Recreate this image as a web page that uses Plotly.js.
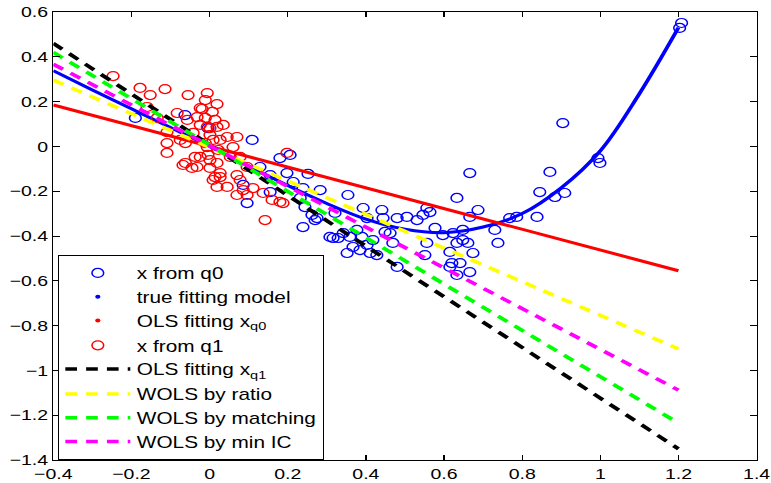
<!DOCTYPE html>
<html>
<head>
<meta charset="utf-8">
<script src="https://cdn.plot.ly/plotly-3.0.1.min.js"></script>
<style>
html,body{margin:0;padding:0;background:#fff;overflow:hidden;}
#plot{width:593px;height:483px;transform:scaleX(1.3);transform-origin:0 0;}
</style>
</head>
<body>
<div id="plot"></div>
<script>
// ---- data ----
const q0X = [-0.190,-0.063,-0.004,0.109,0.086,0.096,0.180,0.206,0.155,0.198,0.232,0.244,0.239,0.129,0.155,0.252,0.214,0.239,0.283,0.354,0.262,0.275,0.321,0.393,0.441,0.444,0.403,0.308,0.342,0.377,0.390,0.352,0.411,0.428,0.469,0.505,0.480,0.531,0.546,0.564,0.556,0.633,0.666,0.687,0.666,0.577,0.556,0.551,0.480,0.633,0.648,0.661,0.615,0.674,0.641,0.615,0.633,0.666,0.738,0.730,0.768,0.786,0.838,0.845,0.871,0.270,0.316,0.329,0.385,0.597,0.623,0.620,0.418,0.449,0.462,0.648,0.359,0.367,0.403,0.884,0.909,0.994,0.999,0.904,1.203,1.208];
const q0Y = [0.127,0.140,0.082,0.029,-0.172,-0.253,-0.052,-0.038,-0.204,-0.119,-0.230,-0.271,-0.360,-0.092,-0.128,-0.123,-0.159,-0.186,-0.195,-0.217,-0.306,-0.320,-0.297,-0.275,-0.284,-0.320,-0.320,-0.404,-0.387,-0.373,-0.404,-0.476,-0.476,-0.485,-0.431,-0.315,-0.320,-0.329,-0.306,-0.293,-0.275,-0.230,-0.119,-0.284,-0.315,-0.364,-0.431,-0.485,-0.538,-0.431,-0.418,-0.431,-0.471,-0.476,-0.521,-0.538,-0.574,-0.561,-0.431,-0.373,-0.320,-0.315,-0.315,-0.204,-0.114,-0.329,-0.409,-0.409,-0.463,-0.396,-0.387,-0.521,-0.418,-0.382,-0.387,-0.373,-0.404,-0.449,-0.440,-0.226,-0.208,-0.052,-0.074,0.104,0.529,0.551];

const q1X = [-0.247,-0.178,-0.152,-0.114,-0.160,-0.055,-0.006,0.019,-0.024,-0.083,-0.134,-0.109,-0.109,-0.109,-0.062,-0.045,-0.024,-0.006,-0.075,-0.057,-0.006,-0.042,0.019,0.009,0.045,0.060,0.053,0.019,0.078,0.096,0.027,0.045,0.078,0.019,0.111,-0.019,-0.032,0.001,0.035,-0.062,0.027,0.070,-0.037,-0.004,-0.068,-0.032,0.001,0.027,0.070,0.009,0.086,0.137,0.160,0.188,0.198,0.070,0.096,0.180,0.142,0.014,0.001,-0.011,0.007,-0.011,0.014,0.001,-0.024,0.022,-0.011];
const q1Y = [0.314,0.261,0.229,0.256,0.176,0.229,0.238,0.189,0.171,0.149,0.127,0.064,0.015,-0.029,-0.074,-0.096,-0.047,-0.003,0.029,0.118,0.087,0.060,0.087,0.029,0.042,-0.003,-0.047,-0.074,-0.047,-0.092,-0.137,-0.181,-0.150,-0.181,-0.186,0.167,0.131,0.082,0.096,0.015,0.029,0.042,-0.047,-0.038,-0.083,-0.092,-0.096,-0.119,-0.128,-0.150,-0.195,-0.208,-0.239,-0.253,-0.029,-0.217,-0.217,-0.248,-0.329,-0.137,-0.061,0.207,0.154,0.127,0.118,0.051,0.096,-0.016,0.015];

const modelX = [-0.4,-0.3,-0.2,-0.1,0,0.1,0.2,0.3,0.4,0.5,0.6,0.7,0.8,0.9,1.0,1.1,1.2];
const modelY = [0.338,0.252,0.168,0.084,0.0,-0.088,-0.175,-0.255,-0.325,-0.37,-0.385,-0.36,-0.30,-0.185,-0.02,0.235,0.53];

const lineX = [-0.4, 1.2];
const olsQ0Y = [0.185, -0.555];
const olsQ1Y = [0.46, -1.35];
const ratioY = [0.296, -0.904];
const matchingY = [0.42, -1.235];
const minICY = [0.367, -1.088];

const legendNames = ['x from q0','true fitting model','OLS fitting x<sub>q0</sub>','x from q1','OLS fitting x<sub>q1</sub>','WOLS by ratio','WOLS by matching','WOLS by min IC'];

const BLUE = 'rgb(0,0,255)', RED = 'rgb(255,0,0)';
const dash = '9px,7px';

const traces = [
  {x:q0X, y:q0Y, mode:'markers', name:legendNames[0], legendgroup:'a', marker:{symbol:'circle-open', size:9, color:BLUE, line:{width:1.2, color:BLUE}}},
  {x:modelX, y:modelY, mode:'lines', line:{color:BLUE, width:3, shape:'spline'}, showlegend:false, legendgroup:'a', name:legendNames[1]},
  {x:[null], y:[null], mode:'markers', name:legendNames[1], legendgroup:'a', marker:{size:4, color:BLUE}},
  {x:lineX, y:olsQ0Y, mode:'lines', line:{color:RED, width:3}, showlegend:false, legendgroup:'a', name:legendNames[2]},
  {x:[null], y:[null], mode:'markers', name:legendNames[2], legendgroup:'a', marker:{size:4, color:RED}},
  {x:q1X, y:q1Y, mode:'markers', name:legendNames[3], legendgroup:'b', marker:{symbol:'circle-open', size:9, color:RED, line:{width:1.2, color:RED}}},
  {x:lineX, y:olsQ1Y, mode:'lines', name:legendNames[4], legendgroup:'b', line:{color:'#000', width:3.5, dash:dash}},
  {x:lineX, y:ratioY, mode:'lines', name:legendNames[5], legendgroup:'c', line:{color:'rgb(255,255,0)', width:3.5, dash:dash}},
  {x:lineX, y:matchingY, mode:'lines', name:legendNames[6], legendgroup:'c', line:{color:'rgb(0,255,0)', width:3.5, dash:dash}},
  {x:lineX, y:minICY, mode:'lines', name:legendNames[7], legendgroup:'c', line:{color:'rgb(255,0,255)', width:3.5, dash:dash}}
];

const tickFont = {family:'Liberation Sans, Arial, sans-serif', size:15, color:'#000'};
const axisCommon = {
  dtick:0.2, ticks:'inside', ticklen:5, tickwidth:1, tickcolor:'#000', mirror:'ticks',
  showline:true, linecolor:'#000', linewidth:1, showgrid:false, zeroline:false,
  tickfont:tickFont, fixedrange:true
};

const layout = {
  width:593, height:483,
  margin:{l:40.8, r:10.7, t:12, b:23, pad:0},
  paper_bgcolor:'#fff', plot_bgcolor:'#fff',
  showlegend:true,
  xaxis:Object.assign({range:[-0.4,1.4], tick0:-0.4}, axisCommon),
  yaxis:Object.assign({range:[-1.4,0.6], tick0:-1.4}, axisCommon),
  legend:{x:0.006, y:0, xanchor:'left', yanchor:'bottom', bgcolor:'#fff', bordercolor:'#000', borderwidth:1,
          traceorder:'grouped',
          font:{family:'Liberation Sans, Arial, sans-serif', size:16, color:'#000'}, itemwidth:50, tracegroupgap:1}
};

Plotly.newPlot('plot', traces, layout, {staticPlot:true, displayModeBar:false});
</script>
</body>
</html>
